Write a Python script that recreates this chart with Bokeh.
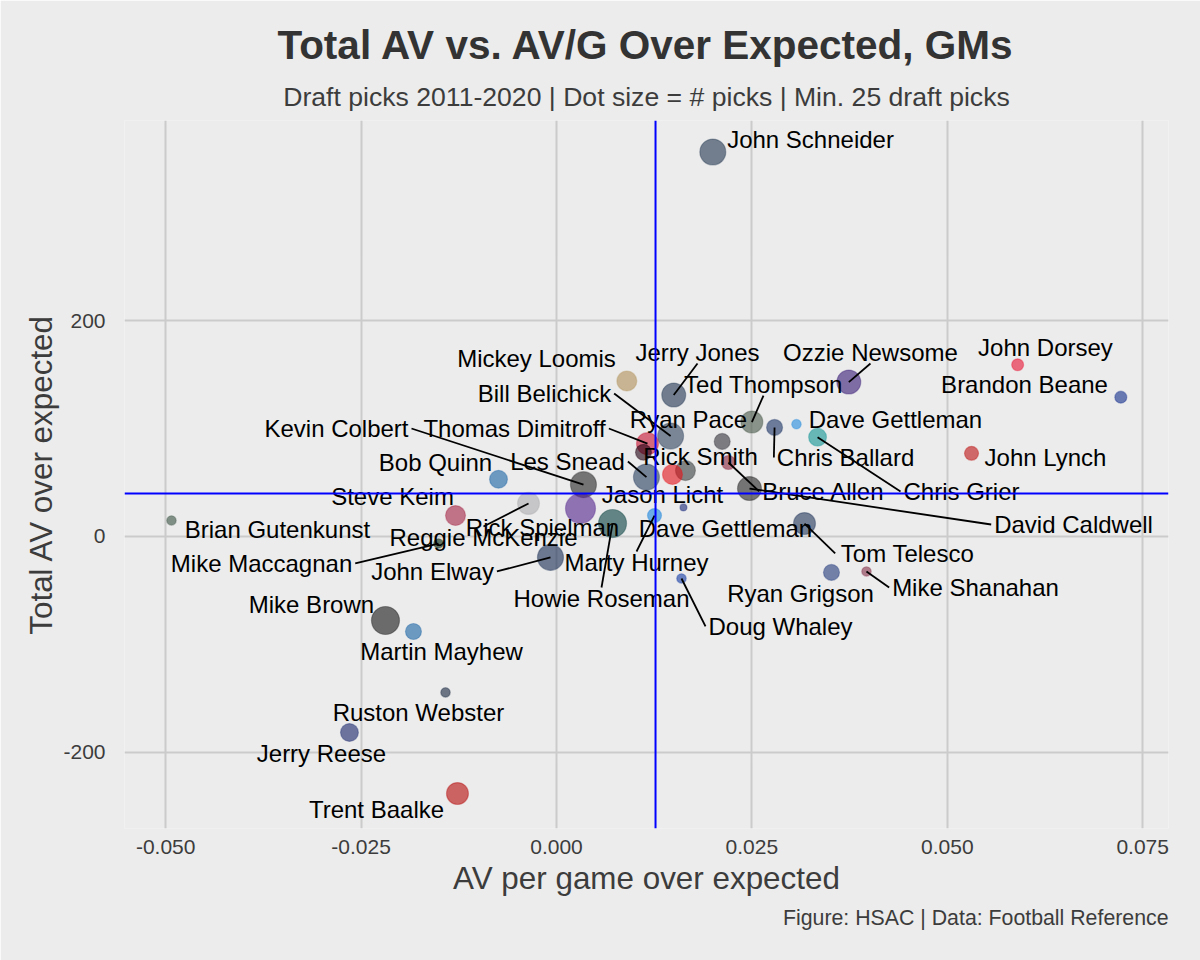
import math
from bokeh.plotting import figure
from bokeh.models import Range1d, FixedTicker, NumeralTickFormatter, Span, Title, ColumnDataSource
from bokeh.core.properties import value
from bokeh.embed import file_html
from bokeh.resources import INLINE

# ---------------- data ----------------
names = ["John Schneider", "Mickey Loomis", "Jerry Jones", "Ozzie Newsome", "John Dorsey",
         "Brandon Beane", "Bill Belichick", "Ted Thompson", "Ryan Pace", "Dave Gettleman",
         "Kevin Colbert", "Thomas Dimitroff", "Chris Ballard", "Rick Smith", "John Lynch",
         "Bob Quinn", "Les Snead", "Chris Grier", "Bruce Allen", "Steve Keim",
         "", "Jason Licht", "David Caldwell", "Brian Gutenkunst", "Rick Spielman",
         "Reggie McKenzie", "Dave Gettleman", "Tom Telesco", "Mike Maccagnan", "Marty Hurney",
         "John Elway", "Mike Shanahan", "Ryan Grigson", "Howie Roseman", "Doug Whaley",
         "Mike Brown", "Martin Mayhew", "Ruston Webster", "Jerry Reese", "Trent Baalke"]

av_per_game_oe = [0.0200, 0.0090, 0.0150, 0.0374, 0.0590,
                  0.0722, 0.0146, 0.0250, 0.0212, 0.0307,
                  0.00345, 0.01164, 0.0279, 0.01113, 0.0531,
                  -0.00742, 0.01151, 0.0334, 0.0220, -0.01292,
                  0.0165, 0.01484, 0.02469, -0.04926, 0.00307,
                  -0.00358, 0.01625, 0.03173, -0.0151, 0.01254,
                  -0.00077, 0.03966, 0.03518, 0.00717, 0.01599,
                  -0.02188, -0.0183, -0.0142, -0.02649, -0.01267]

total_av_oe = [356, 144, 131, 143, 159,
               129, 93, 106, 88, 104,
               48, 86, 101, 78, 77,
               53, 55, 92, 68.5, 19.4,
               61, 57.4, 44.4, 14.8, 25.9,
               30.6, 26.9, 12.0, -6.5, 19.4,
               -19.4, -32.4, -33.3, 12.0, -38.9,
               -77.8, -88.0, -144.4, -181.5, -238]

n_picks = [83, 52, 71, 71, 29,
           29, 83, 61, 38, 26,
           83, 61, 38, 38, 33,
           44, 83, 44, 33, 52,
           52, 52, 71, 26, 110,
           61, 25, 61, 26, 33,
           83, 26, 38, 96, 26,
           96, 38, 26, 44, 61]

# colours as they appear on the page (team colours)
team_colors = ["#737F8E", "#C8B592", "#717D8F", "#7E6CA4", "#EA687B",
               "#6879B2", "#7A8697", "#8A948A", "#7C7C80", "#72B2E3",
               "#747474", "#D5687B", "#6D7C99", "#735569", "#D06868",
               "#6D99C1", "#768397", "#68B7B7", "#B27282", "#C17286",
               "#808383", "#E8686D", "#747474", "#808F86", "#8F72B2",
               "#C6C6C8", "#6D77A8", "#717D94", "#5E7263", "#6DADE3",
               "#6D798F", "#AD7C8B", "#7280A8", "#638585", "#6880C1",
               "#6B6B6B", "#6D99C1", "#6D7685", "#6D749E", "#CB6363"]

# repelled label positions (data units)
label_x = [0.0325, -0.00256, 0.01804, 0.04017, 0.06256,
           0.05988, -0.00154, 0.02648, 0.01689, 0.04337,
           -0.02815, -0.00537, 0.03698, 0.01842, 0.06256,
           -0.01548, 0.00141, 0.05182, 0.03416, -0.02098,
           float("nan"), 0.01356, 0.06615, -0.0357, -0.00179,
           -0.00934, 0.02162, 0.04491, -0.03774, 0.01024,
           -0.01586, 0.05361, 0.03122, 0.00576, 0.02866,
           -0.03135, -0.01471, -0.01766, -0.03007, -0.02303]
label_y = [367.6, 164.8, 170.4, 170.4, 175.0,
           140.7, 132.4, 140.7, 108.3, 108.3,
           100.0, 100.0, 73.1, 74.1, 73.1,
           68.5, 69.4, 41.7, 41.7, 37.0,
           float("nan"), 38.9, 11.1, 6.5, 8.3,
           -0.9, 7.4, -15.7, -25.0, -24.1,
           -32.4, -47.2, -52.8, -57.4, -83.3,
           -63.0, -106.5, -163.0, -200.9, -252.8]
has_segment = [False, False, True, True, False,
               False, True, True, False, False,
               True, True, True, False, False,
               False, True, True, True, False,
               False, False, True, False, False,
               True, False, True, True, True,
               True, True, False, True, True,
               False, False, False, False, False]

x_ref = 0.01267   # mean AV/G over expected
y_ref = 39.8      # mean total AV over expected

x_ticks = [-0.050, -0.025, 0.000, 0.025, 0.050, 0.075]
y_ticks = [-200, 0, 200]

title_text = "Total AV vs. AV/G Over Expected, GMs"
subtitle_text = "Draft picks 2011-2020 | Dot size = # picks | Min. 25 draft picks"
caption_text = "Figure: HSAC | Data: Football Reference"
x_label = "AV per game over expected"
y_label = "Total AV over expected"

# ---------------- styling ----------------
BG = "#ECECEC"
FONT = "Liberation Sans"
X0, X1 = -0.05527, 0.0783
Y0, Y1 = -270.4, 385.2
W, H = 1200, 960
ML, MR, MT, MB = 124, 32, 120, 132
FRAME_W, FRAME_H = W - ML - MR, H - MT - MB
ALPHA = 0.6
LABEL_FS = 24

def hex2rgb(h):
    h = h.lstrip("#")
    return [int(h[i:i + 2], 16) for i in (0, 2, 4)]

def base_color(h):
    bg = hex2rgb(BG)
    c = hex2rgb(h)
    out = [max(0, min(255, round((ci - (1 - ALPHA) * bi) / ALPHA))) for ci, bi in zip(c, bg)]
    return "#%02X%02X%02X" % tuple(out)

def size_px(n):
    r = 3.5 + 11.5 * math.sqrt(max(0, n - 25) / 85.0)
    return 2 * r

AW = {' ': 278, 'A': 667, 'B': 667, 'C': 722, 'D': 722, 'E': 667, 'F': 611, 'G': 778, 'H': 722,
      'I': 278, 'J': 500, 'K': 667, 'L': 556, 'M': 833, 'N': 722, 'O': 778, 'P': 667, 'Q': 778,
      'R': 722, 'S': 667, 'T': 611, 'U': 722, 'V': 667, 'W': 944, 'X': 667, 'Y': 667, 'Z': 611,
      'a': 556, 'b': 556, 'c': 500, 'd': 556, 'e': 556, 'f': 278, 'g': 556, 'h': 556, 'i': 222,
      'j': 222, 'k': 500, 'l': 222, 'm': 833, 'n': 556, 'o': 556, 'p': 556, 'q': 556, 'r': 333,
      's': 500, 't': 278, 'u': 556, 'v': 500, 'w': 722, 'x': 500, 'y': 500, 'z': 500}

def text_w(s):
    return sum(AW.get(ch, 556) for ch in s) / 1000.0 * LABEL_FS

fills = [base_color(c) for c in team_colors]
sizes = [size_px(n) for n in n_picks]

pts = ColumnDataSource(dict(x=av_per_game_oe, y=total_av_oe, size=sizes, fill=fills))

# label segments: from nearest edge midpoint of the label box to the point
sxs = FRAME_W / (X1 - X0)
sys_ = FRAME_H / (Y1 - Y0)
seg = dict(x0=[], y0=[], x1=[], y1=[])
for i, nm in enumerate(names):
    if not nm or not has_segment[i]:
        continue
    cx, cy = label_x[i] * sxs, label_y[i] * sys_
    px, py = av_per_game_oe[i] * sxs, total_av_oe[i] * sys_
    hw, hh = text_w(nm) / 2 + 3, 11
    cands = [(cx + hw, cy), (cx - hw, cy), (cx, cy + hh), (cx, cy - hh)]
    bx, by = min(cands, key=lambda c: (c[0] - px) ** 2 + (c[1] - py) ** 2)
    seg["x0"].append(bx / sxs); seg["y0"].append(by / sys_)
    seg["x1"].append(av_per_game_oe[i]); seg["y1"].append(total_av_oe[i])

lab_idx = [i for i, nm in enumerate(names) if nm]
labs = ColumnDataSource(dict(x=[label_x[i] for i in lab_idx], y=[label_y[i] for i in lab_idx],
                             t=[names[i] for i in lab_idx]))

p = figure(width=W, height=H, x_range=Range1d(X0, X1), y_range=Range1d(Y0, Y1),
           output_backend="svg", toolbar_location=None, title=None,
           background_fill_color=BG, border_fill_color=BG, outline_line_color=None,
           min_border_left=ML, min_border_right=MR, min_border_top=MT, min_border_bottom=MB)

sub = Title(text=subtitle_text, align="center", text_font=FONT, text_font_size="26.6px",
            text_font_style="normal", text_color="#3C3C3C", standoff=18)
main = Title(text=title_text, align="center", text_font=FONT, text_font_size="40.5px",
             text_font_style="bold", text_color="#333333", standoff=5)
p.add_layout(sub, "above")
p.add_layout(main, "above")
cap = Title(text=caption_text, align="right", text_font=FONT, text_font_size="21.3px",
            text_font_style="normal", text_color="#3C3C3C", standoff=10)
p.add_layout(cap, "below")

for ax in (p.xaxis[0], p.yaxis[0]):
    ax.axis_line_color = None
    ax.major_tick_line_color = None
    ax.minor_tick_line_color = None
    ax.major_label_text_font = FONT
    ax.major_label_text_font_size = "21px"
    ax.major_label_text_color = "#3C3C3C"
    ax.axis_label_text_font = FONT
    ax.axis_label_text_font_size = "31.4px"
    ax.axis_label_text_font_style = "normal"
    ax.axis_label_text_color = "#3C3C3C"

p.xaxis.ticker = FixedTicker(ticks=x_ticks)
p.xaxis.formatter = NumeralTickFormatter(format="0.000")
p.yaxis.ticker = FixedTicker(ticks=y_ticks)
p.yaxis.formatter = NumeralTickFormatter(format="0")
p.xaxis.axis_label = x_label
p.yaxis.axis_label = y_label
p.xaxis.major_label_standoff = 5
p.yaxis.major_label_standoff = 13
p.xaxis.axis_label_standoff = 4
p.yaxis.axis_label_standoff = 1

for g in (p.xgrid[0], p.ygrid[0]):
    g.grid_line_color = "#CBCBCB"
    g.grid_line_width = 2

p.add_layout(Span(location=x_ref, dimension="height", line_color="#0000FF", line_width=2))
p.add_layout(Span(location=y_ref, dimension="width", line_color="#0000FF", line_width=2))

p.scatter("x", "y", size="size", source=pts, fill_color="fill", fill_alpha=ALPHA,
          line_color="fill", line_alpha=0.35, line_width=1.2)

p.segment("x0", "y0", "x1", "y1", source=ColumnDataSource(seg), line_color="black", line_width=1.8)

p.text("x", "y", text="t", source=labs, text_font=value(FONT), text_font_size=value("%dpx" % LABEL_FS),
       text_align="center", text_baseline="middle", text_color="black")

open("out.html", "w").write(file_html(p, INLINE))
